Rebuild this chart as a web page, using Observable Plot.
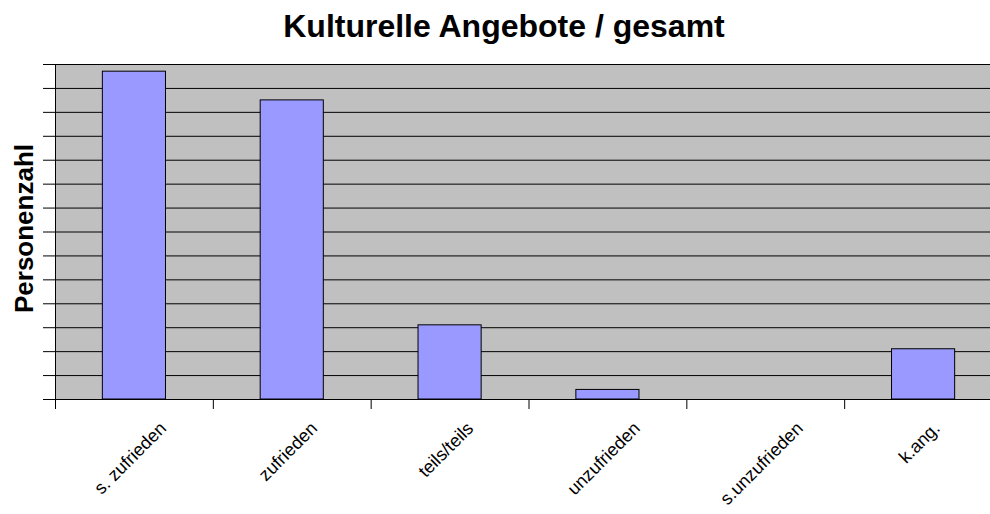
<!DOCTYPE html>
<html><head><meta charset="utf-8">
<script src="https://cdn.jsdelivr.net/npm/d3@7"></script>
<script src="https://cdn.jsdelivr.net/npm/@observablehq/plot@0.6"></script>
<style>
html,body{margin:0;padding:0;background:#fff;overflow:hidden;}
body{font-family:"Liberation Sans",Arial,sans-serif;}
#title{box-sizing:border-box;width:990px;height:49px;padding-left:18px;padding-top:1px;text-align:center;font-weight:bold;font-size:32px;line-height:50px;color:#000;white-space:nowrap;}
#chart svg{display:block;}
</style></head><body>
<div id="title">Kulturelle Angebote / gesamt</div>
<div id="chart"></div>
<script>
const categories = ["s. zufrieden", "zufrieden", "teils/teils", "unzufrieden", "s.unzufrieden", "k.ang."];
const values = [137, 125, 31, 4, 0, 21];
const yTicks = [0, 10, 20, 30, 40, 50, 60, 70, 80, 90, 100, 110, 120, 130, 140];
const xTicks = [0, 1, 2, 3, 4, 5, 6];
const yLabel = "Personenzahl";

const table = categories.map((c, i) => ({cat: c, i, value: values[i]}));

const ctx = document.createElement("canvas").getContext("2d");
ctx.font = "18px 'Liberation Sans', Arial, sans-serif";
const measure = s => ctx.measureText(s).width;

const labelMarks = table.map(d => Plot.text([d], {
  x: r => r.i + 0.5,
  text: "cat",
  frameAnchor: "bottom",
  rotate: -45,
  dy: 30 + 0.354 * measure(d.cat),
  fontSize: 18,
  textAnchor: "middle",
  fill: "#000"
}));

const chart = Plot.plot({
  width: 990,
  height: 465,
  marginTop: 15,
  marginBottom: 115,
  marginLeft: 55,
  marginRight: 0,
  style: {fontFamily: "'Liberation Sans', Arial, sans-serif", background: "#fff", color: "#000"},
  x: {type: "linear", domain: [0, 6], range: [55, 1002], axis: null},
  y: {domain: [0, 140], range: [350, 15], axis: null},
  marks: [
    Plot.frame({fill: "#C0C0C0"}),
    Plot.ruleY(yTicks, {stroke: "#000", strokeWidth: 1}),
    Plot.rectY(table, {x1: d => d.i + 0.3, x2: d => d.i + 0.7, y: "value", fill: "#9999FF", stroke: "#000", strokeWidth: 1}),
    Plot.ruleX([0], {stroke: "#000", strokeWidth: 1}),
    Plot.ruleY([0], {stroke: "#000", strokeWidth: 1}),
    Plot.axisY(yTicks, {tickSize: 12, tickFormat: () => "", label: null, stroke: "#000"}),
    Plot.axisX(xTicks, {tickSize: 10, tickFormat: () => "", label: null, stroke: "#000"}),
    ...labelMarks,
    Plot.text([yLabel], {frameAnchor: "left", dx: -30.5, dy: -3.5, rotate: -90, fontSize: 26, fontWeight: "bold", textAnchor: "middle", fill: "#000"})
  ]
});
document.getElementById("chart").appendChild(chart);
</script>
</body></html>
